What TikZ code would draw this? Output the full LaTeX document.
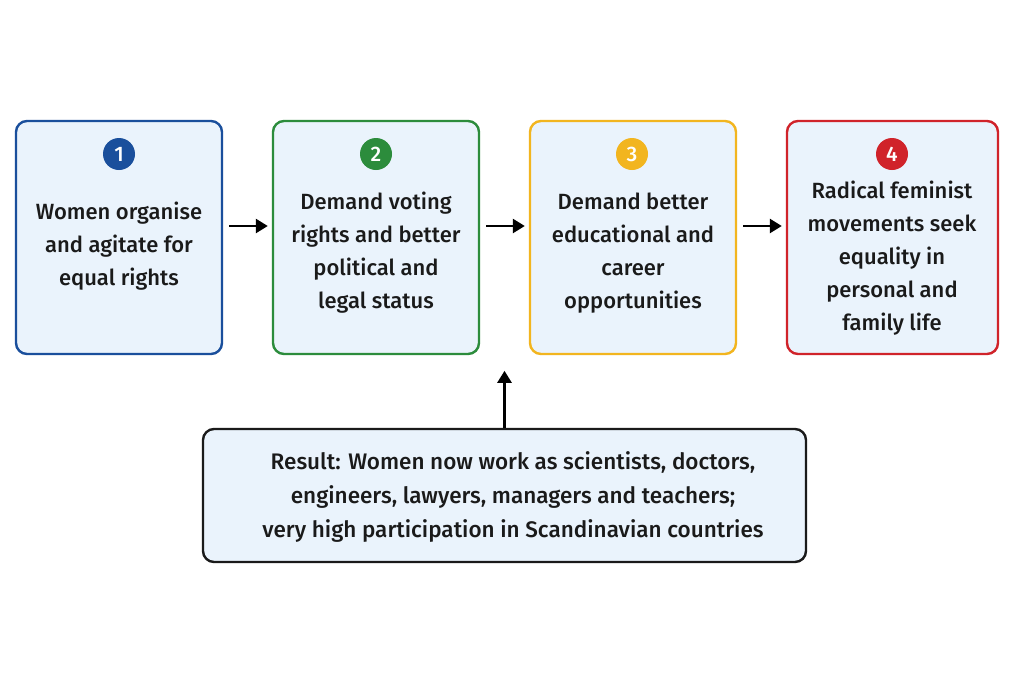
\documentclass[tikz,border=0pt]{standalone}
\usepackage{fontspec}
\setmainfont{Fira Sans}[BoldFont={Fira Sans Medium}]
\usetikzlibrary{arrows.meta}
\definecolor{cblue}{HTML}{1A4F9C}
\definecolor{cgreen}{HTML}{2C8C3C}
\definecolor{cyellow}{HTML}{F2B51F}
\definecolor{cred}{HTML}{D0232A}
\definecolor{boxfill}{HTML}{EAF3FC}
\definecolor{dark}{HTML}{1A1A1A}
\tikzset{
  stepbox/.style={draw, line width=2.4pt, rounded corners=11pt, fill=boxfill, minimum width=206pt, minimum height=233pt},
  numcirc/.style={circle, fill, minimum size=32pt, inner sep=0pt, text=white, font=\bfseries\fontsize{21}{21}\selectfont},
  boxtext/.style={align=center, font=\bfseries\fontsize{22}{33}\selectfont, text=dark},
  flow/.style={-{Triangle[length=12pt,width=14pt]}, line width=2.6pt, draw=black}
}
\begin{document}
\begin{tikzpicture}[x=1pt,y=-1pt]
\useasboundingbox[fill=white] (0,0) rectangle (1024,683);
% boxes
\node[stepbox, draw=cblue] (b1) at (119,237.5) {};
\node[stepbox, draw=cgreen] (b2) at (376,237.5) {};
\node[stepbox, draw=cyellow] (b3) at (633,237.5) {};
\node[stepbox, draw=cred, minimum width=211pt] (b4) at (892.5,237.5) {};
% numbers
\node[numcirc, fill=cblue] (n1) at (119,154) {1};
\node[numcirc, fill=cgreen] (n2) at (376,154) {2};
\node[numcirc, fill=cyellow] (n3) at (632,154) {3};
\node[numcirc, fill=cred] (n4) at (892,154) {4};
% texts
\node[boxtext] (t1) at (119,246) {Women organise\\and agitate for\\equal rights};
\node[boxtext] (t2) at (376,253) {Demand voting\\rights and better\\political and\\legal status};
\node[boxtext] (t3) at (633,253) {Demand better\\educational and\\career\\opportunities};
\node[boxtext] (t4) at (892,258) {Radical feminist\\movements seek\\equality in\\personal and\\family life};
% bottom box
\node[draw=dark, line width=2.4pt, rounded corners=11pt, fill=boxfill, minimum width=603pt, minimum height=133pt] (res) at (504.5,495.5) {};
\node[boxtext, font=\bfseries\fontsize{22.5}{34}\selectfont] (rt) at (513,497) {Result: Women now work as scientists, doctors,\\engineers, lawyers, managers and teachers;\\very high participation in Scandinavian countries};
% arrows
\draw[flow] ([xshift=6pt,yshift=11.5pt]b1.east) -- ([xshift=-4pt,yshift=11.5pt]b2.west);
\draw[flow] ([xshift=6pt,yshift=11.5pt]b2.east) -- ([xshift=-4pt,yshift=11.5pt]b3.west);
\draw[flow] ([xshift=6pt,yshift=11.5pt]b3.east) -- ([xshift=-4pt,yshift=11.5pt]b4.west);
\draw[flow] (res.north) -- ++(0,-57) coordinate (up);
\end{tikzpicture}
\end{document}
